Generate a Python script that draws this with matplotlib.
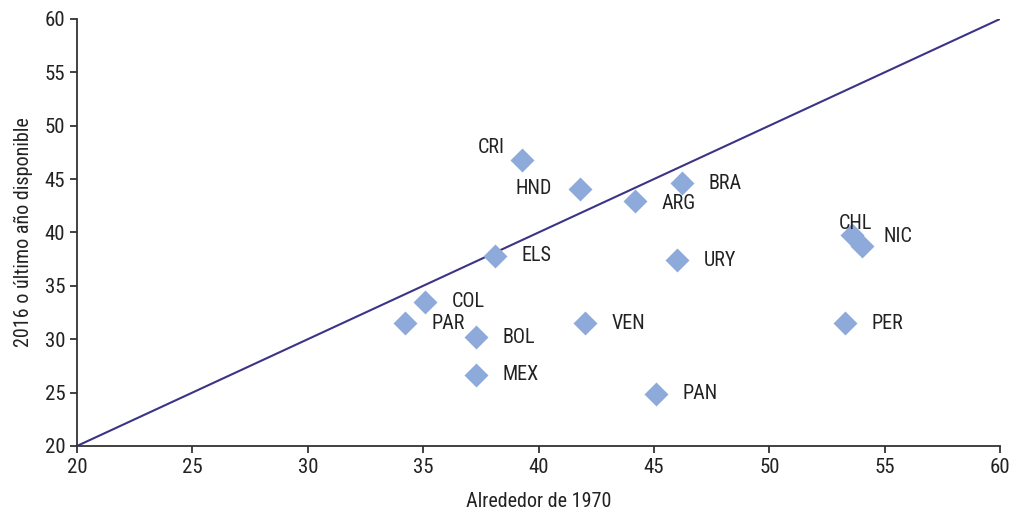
import matplotlib.pyplot as plt
from matplotlib import font_manager

names = {f.name for f in font_manager.fontManager.ttflist}
narrow = "Roboto"
for cand in ["Roboto Condensed", "Liberation Sans Narrow", "Arial Narrow"]:
    if cand in names:
        narrow = cand
        break
plt.rcParams['font.family'] = [narrow, 'DejaVu Sans']

countries = ["CRI", "HND", "BRA", "ARG", "CHL", "NIC", "ELS", "URY",
             "COL", "PAR", "BOL", "VEN", "PER", "MEX", "PAN"]
x_1970 = [39.3, 41.8, 46.2, 44.2, 53.6, 54.0, 38.1, 46.0,
          35.1, 34.2, 37.3, 42.0, 53.3, 37.3, 45.1]
y_2016 = [46.8, 44.1, 44.6, 42.9, 39.8, 38.7, 37.8, 37.4,
          33.5, 31.5, 30.2, 31.5, 31.5, 26.65, 24.9]

# label offsets in points (dx, dy, ha)
offsets = {
    "CRI": (-13, 9, "right"), "HND": (-20, 0, "right"), "CHL": (2, 8, "center"),
    "NIC": (16, 7, "left"), "ARG": (19, -1.5, "left"),
}

fig = plt.figure(figsize=(10.11, 5.12), dpi=100)
ax = fig.add_axes([0.0762, 0.129, 0.913, 0.834])

ax.plot([20, 60], [20, 60], color="#3b3486", lw=1.5, zorder=2)
ax.plot(x_1970, y_2016, "D", color="#8eaadb", markersize=12.5, mec="none", zorder=3)

for c, x, y in zip(countries, x_1970, y_2016):
    dx, dy, ha = offsets.get(c, (19, 0, "left"))
    ax.annotate(c, (x, y), xytext=(dx, dy), textcoords="offset points",
                ha=ha, va="center", fontsize=14.5, color="#222222")

ax.set_xlim(20, 60)
ax.set_ylim(20, 60)
ax.set_xticks(range(20, 61, 5))
ax.set_yticks(range(20, 61, 5))
for s in ["top", "right"]:
    ax.spines[s].set_visible(False)
for s in ["left", "bottom"]:
    ax.spines[s].set_color("#333333")
    ax.spines[s].set_linewidth(1.3)
ax.tick_params(direction="out", length=5, width=1.3, color="#333333",
               labelsize=15, labelcolor="#222222")
ax.set_xlabel("Alrededor de 1970", fontsize=14.5, color="#222222", labelpad=11)
ax.set_ylabel("2016 o último año disponible", fontsize=14.5, color="#222222", labelpad=8)

fig.savefig("out.png", dpi=100)
